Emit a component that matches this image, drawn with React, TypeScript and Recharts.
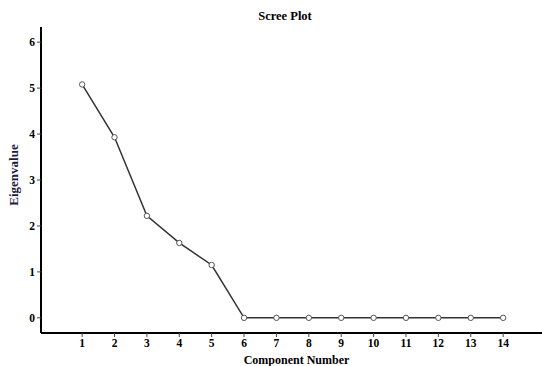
import React from "react";
import { LineChart, Line, XAxis, YAxis } from "recharts";

const components = [1, 2, 3, 4, 5, 6, 7, 8, 9, 10, 11, 12, 13, 14];
const eigenvalues = [5.08, 3.93, 2.22, 1.63, 1.15, 0, 0, 0, 0, 0, 0, 0, 0, 0];
const yTicks = [0, 1, 2, 3, 4, 5, 6];
const title = "Scree Plot";

const data = components.map((c, i) => ({ c, v: eigenvalues[i] }));

const font = '"Liberation Serif", "Times New Roman", serif';

export default function App() {
  return (
    <div style={{ position: "absolute", left: 0, top: 0, width: 542, height: 366, background: "#fff" }}>
      <div
        style={{
          position: "absolute",
          left: 30,
          width: 510,
          top: 9,
          textAlign: "center",
          fontFamily: font,
          fontWeight: "bold",
          fontSize: 12.5,
          color: "#000",
        }}
      >
        {title}
      </div>
      <LineChart width={542} height={366} data={data} margin={{ top: 27, right: 0, bottom: 0, left: 0 }}>
        <XAxis
          dataKey="c"
          type="number"
          domain={[-0.27, 15.2]}
          ticks={components}
          interval={0}
          allowDataOverflow
          height={33}
          axisLine={{ stroke: "#000", strokeWidth: 2 }}
          tickLine={{ stroke: "#444" }}
          tickSize={4}
          tick={{ fontFamily: font, fontWeight: "bold", fontSize: 11.5, fill: "#000" }}
          label={{
            value: "Component Number",
            position: "insideBottom",
            offset: 2,
            dx: 5,
            style: { fontFamily: font, fontWeight: "bold", fontSize: 12, fill: "#000" },
          }}
        />
        <XAxis
          xAxisId="top"
          orientation="top"
          dataKey="c"
          type="number"
          domain={[-0.27, 15.2]}
          height={0}
          tick={false}
          tickLine={false}
          axisLine={{ stroke: "#000", strokeWidth: 2 }}
        />
        <YAxis
          type="number"
          domain={[-0.33, 6.33]}
          ticks={yTicks}
          allowDataOverflow
          width={41}
          axisLine={{ stroke: "#000", strokeWidth: 2 }}
          tickLine={{ stroke: "#444" }}
          tickSize={4}
          tick={{ fontFamily: font, fontWeight: "bold", fontSize: 11.5, fill: "#000" }}
          label={{
            value: "Eigenvalue",
            angle: -90,
            position: "insideLeft",
            offset: 13,
            dy: -5,
            style: { fontFamily: font, fontWeight: "bold", fontSize: 13, fill: "#1c1c3c", textAnchor: "middle" },
          }}
        />
        <Line
          dataKey="v"
          type="linear"
          stroke="#333"
          strokeWidth={1.5}
          dot={{ r: 2.7, stroke: "#555", strokeWidth: 1, fill: "#fff" }}
          isAnimationActive={false}
        />
      </LineChart>
    </div>
  );
}
